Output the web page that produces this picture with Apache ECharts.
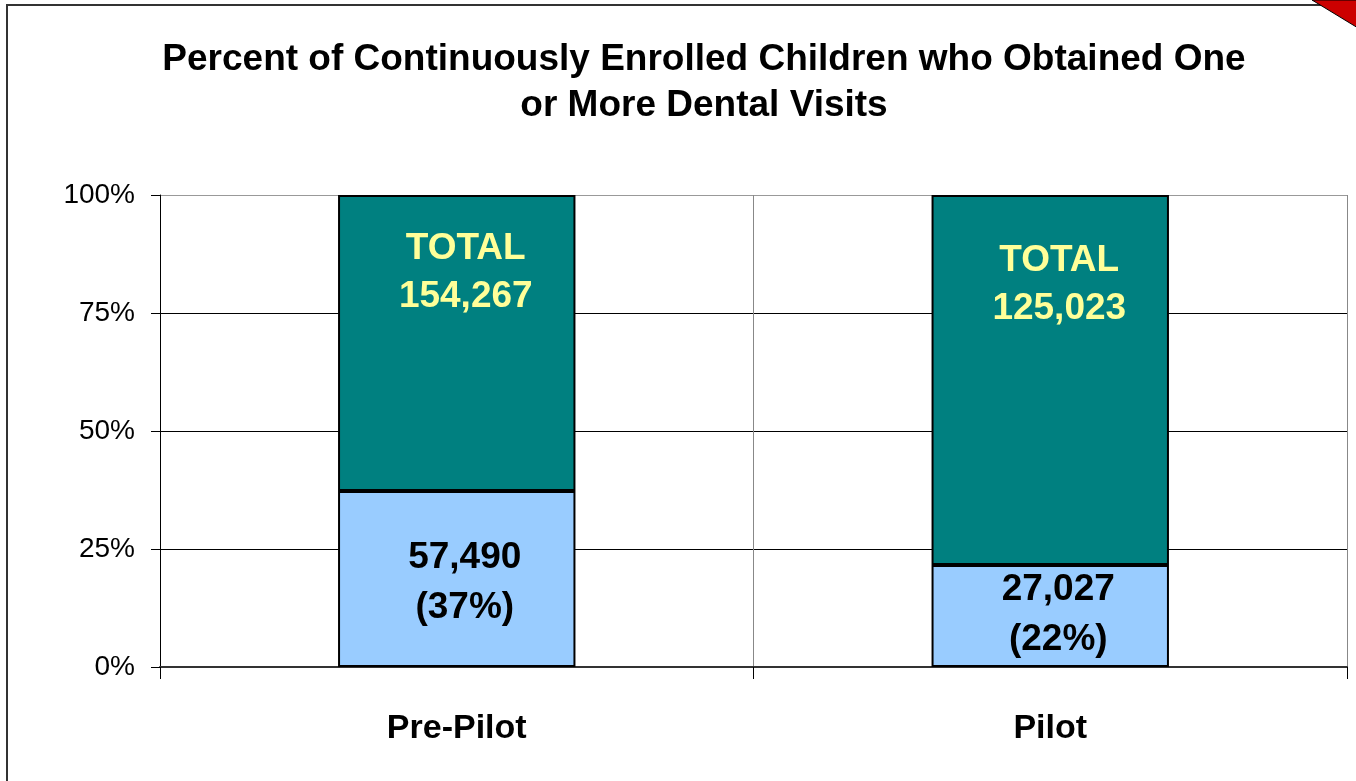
<!DOCTYPE html>
<html>
<head>
<meta charset="utf-8">
<script src="https://cdn.jsdelivr.net/npm/echarts@6/dist/echarts.min.js"></script>
<style>
  html, body { margin: 0; padding: 0; background: #fff; }
  #chart { width: 1356px; height: 781px; }
</style>
</head>
<body>
<div id="chart"></div>
<script>
const categories = ['Pre-Pilot', 'Pilot'];
const visitCounts = [57490, 27027];
const visitPercents = [37.3, 21.6];
const remainderPercents = [62.7, 78.4];
const totals = [154267, 125023];
const yTicks = ['0%', '25%', '50%', '75%', '100%'];

const chartTitle = 'Percent of Continuously Enrolled Children who Obtained One\nor More Dental Visits';
const fontFamily = 'Arial, "Liberation Sans", Helvetica, sans-serif';

function fmt(n) {
  return n.toLocaleString('en-US');
}

const myChart = echarts.init(document.getElementById('chart'));

// small per-bar nudges so the labels sit where the original put them
const topLabelDistance = [30, 42];
const bottomLabelOffset = [[8, 4], [8, -1]];

const option = {
  animation: false,
  backgroundColor: '#fff',
  textStyle: { fontFamily: fontFamily },
  title: {
    text: chartTitle,
    left: 699,
    textAlign: 'center',
    top: 32,
    textStyle: {
      fontSize: 37,
      fontWeight: 'bold',
      color: '#000',
      lineHeight: 46,
      fontFamily: fontFamily
    }
  },
  grid: { left: 160, right: 9, top: 195, bottom: 114 },
  xAxis: {
    type: 'category',
    data: categories,
    boundaryGap: true,
    axisLine: { lineStyle: { color: '#333', width: 2 } },
    axisTick: { show: true, length: 12, lineStyle: { color: '#000', width: 1 } },
    axisLabel: {
      fontSize: 34,
      fontWeight: 'bold',
      color: '#000',
      margin: 45,
      fontFamily: fontFamily
    },
    splitLine: { show: true, lineStyle: { color: '#888', width: 1 } }
  },
  yAxis: {
    type: 'value',
    min: 0,
    max: 100,
    interval: 25,
    axisLine: { show: true, lineStyle: { color: '#000', width: 1 } },
    axisTick: { show: true, length: 9, lineStyle: { color: '#000' } },
    axisLabel: {
      fontSize: 28,
      color: '#000',
      margin: 25,
      fontFamily: fontFamily,
      formatter: function (v) { return yTicks[Math.round(v / 25)]; }
    },
    splitLine: { show: true, lineStyle: { color: ['#000', '#000', '#000', '#000', '#999'], width: 1 } }
  },
  series: [
    {
      name: 'Visits',
      type: 'bar',
      stack: 'all',
      barWidth: '40%',
      data: visitPercents.map(function (v, i) {
        return { value: v, label: { offset: bottomLabelOffset[i] } };
      }),
      itemStyle: { color: '#99CCFF', borderColor: '#000', borderWidth: 2 },
      label: {
        show: true,
        position: 'inside',
        fontSize: 37,
        fontWeight: 'bold',
        color: '#000',
        lineHeight: 50,
        fontFamily: fontFamily,
        formatter: function (p) {
          return fmt(visitCounts[p.dataIndex]) + '\n(' + Math.round(visitPercents[p.dataIndex]) + '%)';
        }
      }
    },
    {
      name: 'Total',
      type: 'bar',
      stack: 'all',
      barWidth: '40%',
      data: remainderPercents.map(function (v, i) {
        return { value: v, label: { distance: topLabelDistance[i] } };
      }),
      itemStyle: { color: '#008080', borderColor: '#000', borderWidth: 2 },
      label: {
        show: true,
        position: 'insideTop',
        offset: [9, 0],
        fontSize: 37,
        fontWeight: 'bold',
        color: '#FFFF99',
        lineHeight: 48,
        fontFamily: fontFamily,
        formatter: function (p) {
          return 'TOTAL\n' + fmt(totals[p.dataIndex]);
        }
      }
    }
  ],
  graphic: [
    {
      type: 'rect',
      shape: { x: 7, y: 5, width: 1420, height: 900 },
      style: { fill: null, stroke: '#333', lineWidth: 2 },
      silent: true
    },
    {
      type: 'polygon',
      shape: { points: [[1312, 0], [1358, 0], [1358, 28]] },
      style: { fill: '#CC0000', stroke: '#000', lineWidth: 1 },
      silent: true
    }
  ]
};

myChart.setOption(option);
</script>
</body>
</html>
